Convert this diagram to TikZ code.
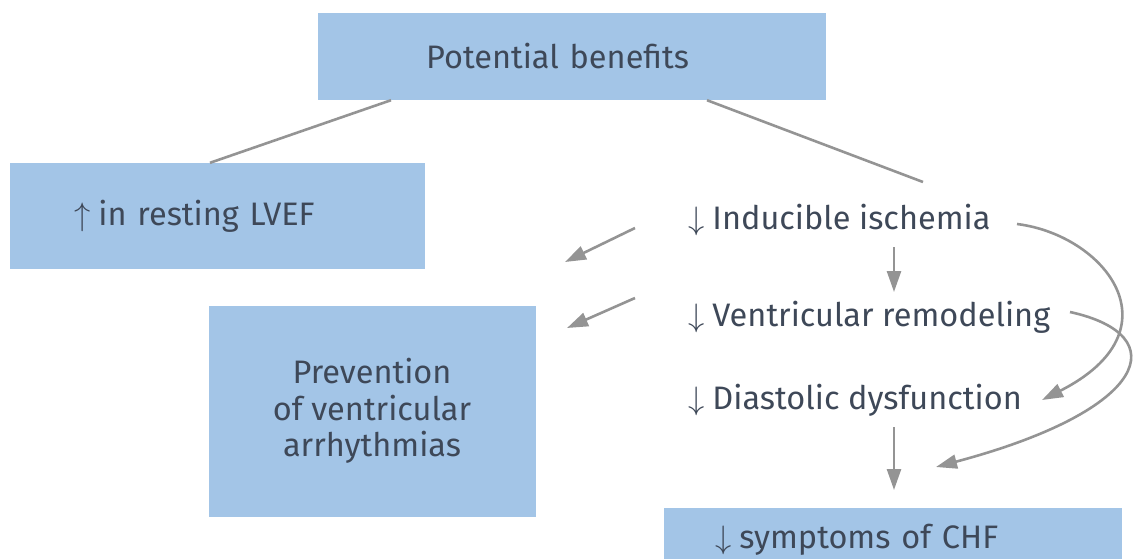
\documentclass[tikz,border=0pt]{standalone}
\usepackage{fix-cm}
\usepackage{fontspec}
\setmainfont{Fira Sans}
\usetikzlibrary{arrows.meta}
\definecolor{boxblue}{RGB}{163,197,231}
\definecolor{inkgray}{RGB}{62,72,88}
\definecolor{linegray}{RGB}{148,148,148}
\newcommand{\dn}{$\downarrow$\hspace{8pt}}
\newcommand{\upw}{$\uparrow$\hspace{8pt}}

\begin{document}
\begin{tikzpicture}
[x=1pt,y=-1pt,%
  every node/.style={text=inkgray,inner sep=0pt},%
  box/.style={fill=boxblue},%
  link/.style={linegray,line width=2.6pt},%
  arr/.style={linegray,line width=2.6pt,-{Triangle[length=21pt,width=14pt]}}]
\fontsize{32.5}{36.5}\selectfont
\clip (0,0) rectangle (1136,558);
\node[box,anchor=west,text width=292pt,inner xsep=108pt,minimum height=87pt] (top) at (318,56.5) {Potential benefits};
\node[box,anchor=west,text width=287pt,inner xsep=64pt,minimum height=106pt] (lvef) at (10,216) {\upw in resting LVEF};
\node[box,minimum width=327pt,minimum height=211pt,align=center] (prev) at (372,411) {Prevention\\of ventricular\\arrhythmias};
\node[box,anchor=west,text width=356pt,inner xsep=51pt,minimum height=64pt] (chf) at (664,540) {\dn symptoms of CHF};
\node[anchor=base west] (isch) at (688,229) {\dn Inducible ischemia};
\node[anchor=base west] (remod) at (688,326) {\dn Ventricular remodeling};
\node[anchor=base west] (diast) at (688,409) {\dn Diastolic dysfunction};
\coordinate (ischtop) at (923,182);
\coordinate (left1) at (635,228);
\coordinate (left1end) at (565,262);
\coordinate (left2) at (635,298);
\coordinate (left2end) at (567,328);
\coordinate (down1) at (894,247);
\coordinate (down1end) at (894,292);
\coordinate (down2) at (894,427);
\coordinate (down2end) at (894,490);
\coordinate (bend1) at (1017,224);
\coordinate (bend1end) at (1042,400);
\coordinate (bend2) at (1070,312);
\coordinate (bend2end) at (936,467);
\draw[link] (top.south -| 391,0) -- (lvef.north -| 210,0);
\draw[link] (top.south -| 707,0) -- (ischtop);
\draw[arr] (left1) -- (left1end);
\draw[arr] (left2) -- (left2end);
\draw[arr] (down1) -- (down1end);
\draw[arr] (down2) -- (down2end);
\draw[arr] (bend1) .. controls (1105,235) and (1180,330) .. (bend1end);
\draw[arr] (bend2) .. controls (1175,335) and (1150,410) .. (bend2end);
\end{tikzpicture}
\end{document}
